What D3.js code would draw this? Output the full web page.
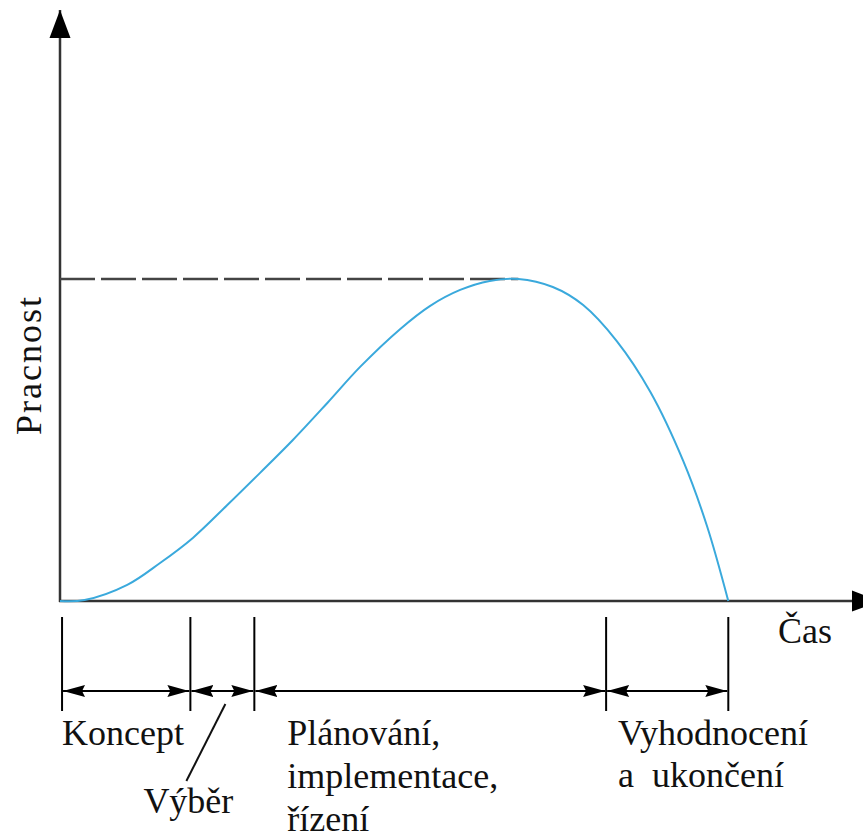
<!DOCTYPE html>
<html>
<head>
<meta charset="utf-8">
<script src="https://cdn.jsdelivr.net/npm/d3@7"></script>
<style>
  body { margin: 0; background: #fff; }
  text { font-family: "Liberation Serif", "Times New Roman", serif; fill: #111; white-space: pre; }
</style>
</head>
<body>
<div id="chart"></div>
<script>
// effort curve (time and effort in relative units, peak effort = 100)
const time = [0, 3, 8.2, 12.2, 16.2, 20.4, 24.4, 28.4, 32.6, 36.6, 41.5, 45.1, 48.8, 52.4, 55.9, 60.1, 63.8, 67.9, 72.0, 76.0, 78.9, 81.5];
const effort = [0, 0.3, 5.0, 11.8, 19.6, 29.8, 39.8, 50.0, 61.5, 72.7, 84.5, 91.6, 96.6, 99.4, 100, 97.5, 91.9, 80.7, 64.9, 43.5, 23.3, 0];
const peakTime = 55.9;
const peakEffort = 100;

// phase boundaries on the time axis
const phaseBounds = [0.25, 15.9, 23.7, 66.6, 81.5];
const phaseLabels = [["Koncept"], ["Výběr"], ["Plánování,", "implementace,", "řízení"], ["Vyhodnocení", "a  ukončení"]];
const xLabel = "Čas";
const yLabel = "Pracnost";

const width = 863, height = 840;

const svg = d3.select("#chart").append("svg")
    .attr("width", width)
    .attr("height", height)
    .attr("viewBox", [0, 0, width, height]);

const x = d3.scaleLinear().domain([0, 100]).range([60, 880]);
const y = d3.scaleLinear().domain([0, 100]).range([601, 279]);

const defs = svg.append("defs");
defs.append("marker").attr("id", "axisArrow")
    .attr("viewBox", "0 -11 28 22").attr("refX", 28).attr("refY", 0)
    .attr("markerUnits", "userSpaceOnUse").attr("markerWidth", 28).attr("markerHeight", 22)
    .attr("orient", "auto")
    .append("path").attr("d", "M0,-10.5L28,0L0,10.5Z").attr("fill", "#000");
defs.append("marker").attr("id", "dimArrow")
    .attr("viewBox", "0 -6 22 12").attr("refX", 22).attr("refY", 0)
    .attr("markerUnits", "userSpaceOnUse").attr("markerWidth", 22).attr("markerHeight", 12)
    .attr("orient", "auto-start-reverse")
    .append("path").attr("d", "M0,-6L22,0L0,6L3,0Z").attr("fill", "#000");

// axes
svg.append("line")
    .attr("x1", x(0)).attr("y1", y(0) + 1).attr("x2", x(0)).attr("y2", 10)
    .attr("stroke", "#333").attr("stroke-width", 2.5)
    .attr("marker-end", "url(#axisArrow)");
svg.append("line")
    .attr("x1", x(0) - 1).attr("y1", y(0)).attr("x2", x(100)).attr("y2", y(0))
    .attr("stroke", "#333").attr("stroke-width", 2.5)
    .attr("marker-end", "url(#axisArrow)");

// dashed peak line
svg.append("line")
    .attr("x1", x(0)).attr("y1", y(peakEffort)).attr("x2", x(peakTime)).attr("y2", y(peakEffort))
    .attr("stroke", "#444").attr("stroke-width", 2.5)
    .attr("stroke-dasharray", "35,6");

// effort curve
const pts = time.map((t, i) => [t, effort[i]]);
svg.append("path")
    .datum(pts)
    .attr("fill", "none")
    .attr("stroke", "#3aa9dc")
    .attr("stroke-width", 2)
    .attr("d", d3.line().x(d => x(d[0])).y(d => y(d[1])).curve(d3.curveCatmullRom.alpha(0.5)));

// phase ticks and dimension arrows
const tickTop = 617, tickBottom = 711, dimY = 691;
svg.selectAll(".tick").data(phaseBounds).join("line")
    .attr("x1", d => x(d)).attr("x2", d => x(d))
    .attr("y1", tickTop).attr("y2", tickBottom)
    .attr("stroke", "#000").attr("stroke-width", 2);
svg.selectAll(".dim").data(d3.pairs(phaseBounds)).join("line")
    .attr("x1", d => x(d[0]) + 1).attr("x2", d => x(d[1]) - 1)
    .attr("y1", dimY).attr("y2", dimY)
    .attr("stroke", "#000").attr("stroke-width", 2)
    .attr("marker-start", "url(#dimArrow)")
    .attr("marker-end", "url(#dimArrow)");

// labels
const fs = 36;
function label(lines, x0, y0, dy) {
    const t = svg.append("text").attr("font-size", fs);
    lines.forEach((s, i) => t.append("tspan").attr("x", x0).attr("y", y0 + i * dy).text(s));
}
label(phaseLabels[0], x(phaseBounds[0]), 745, 43);
label(phaseLabels[1], x(phaseBounds[1]) - 47, 813, 43);
label(phaseLabels[2], x(phaseBounds[2]) + 33, 745, 43);
label(phaseLabels[3], x(phaseBounds[3]) + 12, 745, 42);

// slash linking "Výběr" to its phase
svg.append("line")
    .attr("x1", x(phaseBounds[1]) + 35).attr("y1", 704)
    .attr("x2", x(phaseBounds[1]) - 4).attr("y2", 781)
    .attr("stroke", "#111").attr("stroke-width", 2);

svg.append("text").attr("font-size", fs)
    .attr("x", 778).attr("y", 643).text(xLabel);

svg.append("text").attr("font-size", fs)
    .attr("transform", "translate(41,435) rotate(-90)")
    .attr("textLength", 138).attr("lengthAdjust", "spacing")
    .text(yLabel);
</script>
</body>
</html>
